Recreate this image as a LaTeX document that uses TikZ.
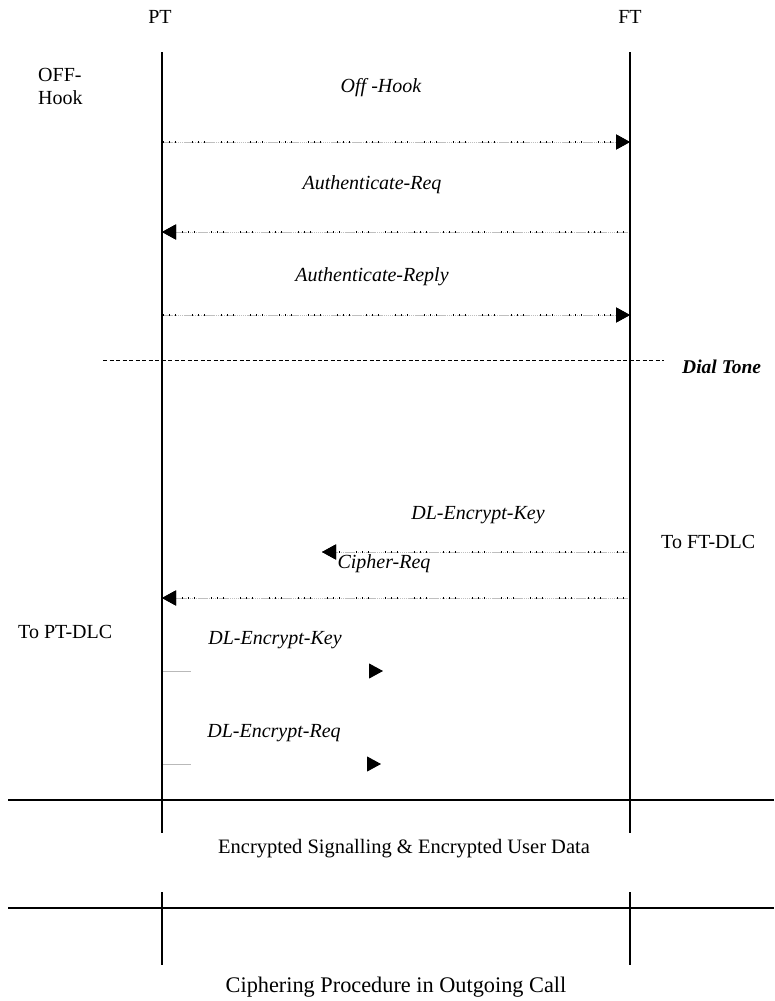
\documentclass[tikz,border=0pt]{standalone}
\usepackage{fontspec}
\setmainfont{Liberation Serif}
\usetikzlibrary{arrows.meta}
\begin{document}
\begin{tikzpicture}[x=1pt,y=-1pt,
  life/.style={line width=1.6pt},
  sep/.style={line width=1.2pt},
  msg/.style={gray!50, line width=1pt, dash pattern=on 1.5pt off 0.6pt,
     -{Triangle[length=14pt,width=15pt,black]},
     postaction={draw=black, line width=1.1pt, dash pattern=on 1pt off 5pt on 1pt off 5pt on 1pt off 16pt}},
  shortmsg/.style={gray!55, line width=0.9pt, dash pattern=on 28pt off 400pt,
     -{Triangle[length=14pt,width=15pt,black]}},
  lbl/.style={font=\fontsize{20}{24}\selectfont\itshape, inner sep=0pt},
  txt/.style={font=\fontsize{20}{24}\selectfont, inner sep=0pt}]
\useasboundingbox (0,0) rectangle (774,1001);
% headers
\node[txt] (pt) at (160,17) {PT};
\node[txt] (ft) at (630,17) {FT};
% lifelines
\coordinate (pttop) at (162,52);
\coordinate (ptbot) at (162,833);
\coordinate (fttop) at (630,52);
\coordinate (ftbot) at (630,833);
\draw[life] (pttop) -- (ptbot);
\draw[life] (fttop) -- (ftbot);
\coordinate (pttop2) at (162,892);
\coordinate (ptbot2) at (162,965);
\coordinate (fttop2) at (630,892);
\coordinate (ftbot2) at (630,965);
\draw[life] (pttop2) -- (ptbot2);
\draw[life] (fttop2) -- (ftbot2);
% side labels
\node[txt, align=left, anchor=west, font=\fontsize{20}{23}\selectfont] (offhook) at (38,86) {OFF-\\Hook};
% messages
\node[lbl] (m1) at (381,88) {Off -Hook};
\coordinate (a1) at (163,142); \coordinate (b1) at (630,142);
\draw[msg] (a1) -- (b1);
\node[lbl] (m2) at (372,185) {Authenticate-Req};
\coordinate (a2) at (630,232); \coordinate (b2) at (162,232);
\draw[msg] (a2) -- (b2);
\node[lbl] (m3) at (372,277) {Authenticate-Reply};
\coordinate (a3) at (163,315); \coordinate (b3) at (630,315);
\draw[msg] (a3) -- (b3);
% dial tone
\coordinate (d1) at (103,360); \coordinate (d2) at (664,360);
\draw[line width=0.9pt, dash pattern=on 4pt off 2.5pt] (d1) -- (d2);
\node[lbl, font=\fontsize{19.5}{23}\selectfont\bfseries\itshape, anchor=west] (dial) at (682,367) {Dial Tone};
% to FT-DLC
\node[lbl] (m4) at (478,515) {DL-Encrypt-Key};
\coordinate (a4) at (630,552); \coordinate (b4) at (322,552);
\draw[msg] (a4) -- (b4);
\node[txt, anchor=west] (ftdlc) at (661,542) {To FT-DLC};
\node[lbl] (m5) at (384,564) {Cipher-Req};
\coordinate (a5) at (630,598); \coordinate (b5) at (162,598);
\draw[msg] (a5) -- (b5);
% to PT-DLC
\node[txt, anchor=west] (ptdlc) at (18,632) {To PT-DLC};
\node[lbl] (m6) at (275,640) {DL-Encrypt-Key};
\coordinate (a6) at (163,671); \coordinate (b6) at (383,671);
\draw[shortmsg] (a6) -- (b6);
\node[lbl] (m7) at (274,733) {DL-Encrypt-Req};
\coordinate (a7) at (163,764); \coordinate (b7) at (381,764);
\draw[shortmsg] (a7) -- (b7);
% separators
\coordinate (s1l) at (8,800); \coordinate (s1r) at (774,800);
\draw[sep] (s1l) -- (s1r);
\node[txt, font=\fontsize{20.5}{24}\selectfont] (enc) at (404,849) {Encrypted Signalling \& Encrypted User Data};
\coordinate (s2l) at (8,908); \coordinate (s2r) at (774,908);
\draw[sep] (s2l) -- (s2r);
\node[txt, font=\fontsize{22.3}{26}\selectfont] (cap) at (396,987) {Ciphering Procedure in Outgoing Call};
\end{tikzpicture}
\end{document}
